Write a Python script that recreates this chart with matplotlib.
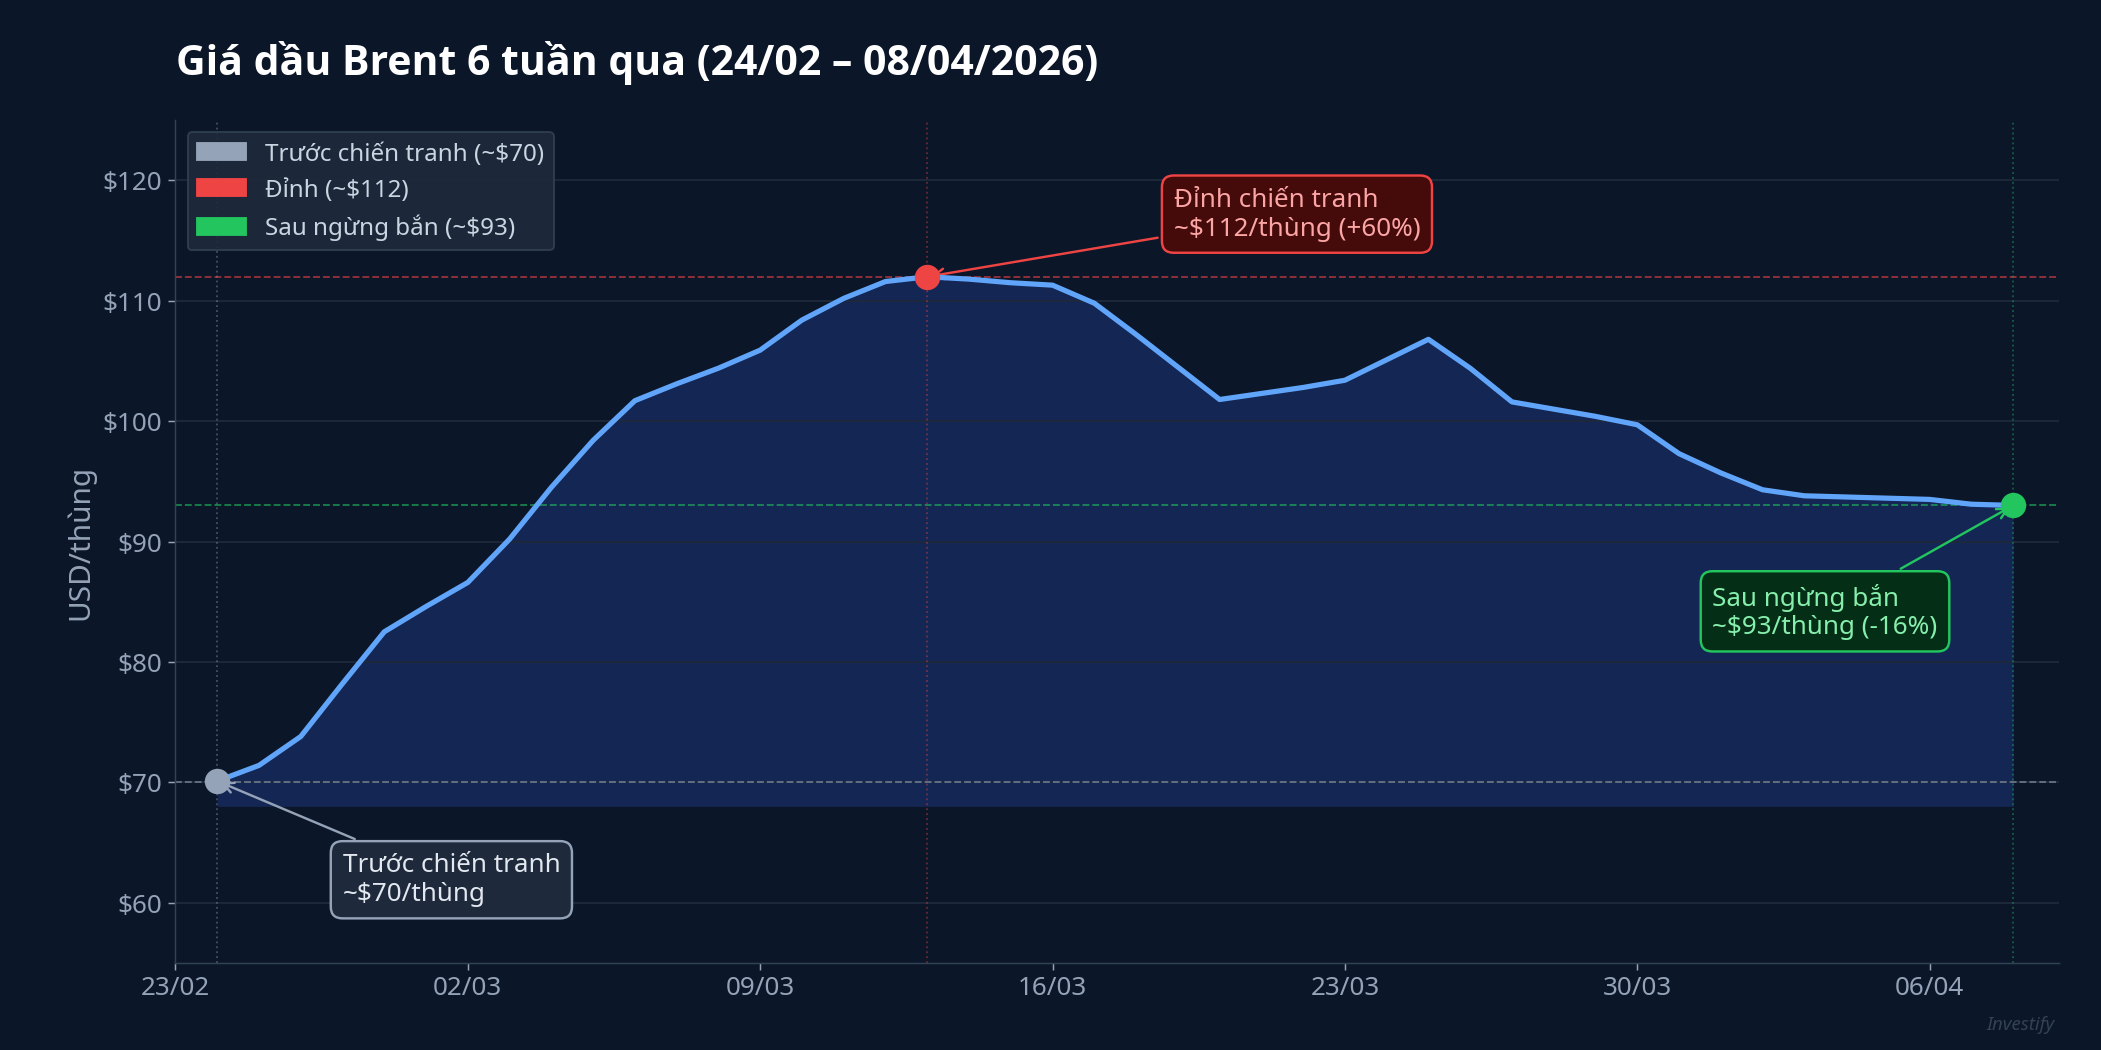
import matplotlib
matplotlib.use("Agg")
import matplotlib.pyplot as plt
import numpy as np
import datetime as dt
import matplotlib.dates as mdates

start = dt.date(2026, 2, 24)
prices = [70.1, 71.4, 73.8, 78.2, 82.5, 84.6, 86.6, 90.2, 94.5, 98.4, 101.7, 103.1, 104.4, 105.9,
          108.4, 110.2, 111.6, 112.0, 111.8, 111.5, 111.3, 109.8, 107.2, 104.5, 101.8, 102.3,
          102.8, 103.4, 105.1, 106.8, 104.4, 101.6, 101.0, 100.4, 99.7, 97.3, 95.7, 94.3, 93.8,
          93.7, 93.6, 93.5, 93.1, 93.0]
dates = [start + dt.timedelta(days=i) for i in range(len(prices))]
tick_labels = ["23/02", "02/03", "09/03", "16/03", "23/03", "30/03", "06/04"]
yticks = [60, 70, 80, 90, 100, 110, 120]
pre, peak, after = 70, 112, 93

plt.rcParams['font.family'] = ['Noto Sans', 'DejaVu Sans']
BG = '#0b1628'
fig = plt.figure(figsize=(15.68, 7.84), dpi=134)
fig.patch.set_facecolor(BG)
ax = fig.add_axes([0.0835, 0.083, 0.8965, 0.802])
ax.set_facecolor(BG)
x = mdates.date2num(dates)
ax.fill_between(x, 68, prices, color='#1e3a8a', alpha=0.45, lw=0)
ax.plot(x, prices, color='#60a5fa', lw=2.8, zorder=4)

ax.axhline(pre, color='#94a3b8', ls='--', lw=1, alpha=0.6)
ax.axhline(peak, color='#ef4444', ls='--', lw=1, alpha=0.6)
ax.axhline(after, color='#22c55e', ls='--', lw=1, alpha=0.6)
ip = prices.index(max(prices))
ax.axvline(x[0], color='#94a3b8', ls=':', lw=1, alpha=0.4)
ax.axvline(x[ip], color='#ef4444', ls=':', lw=1, alpha=0.4)
ax.axvline(x[-1], color='#22c55e', ls=':', lw=1, alpha=0.4)

ax.scatter([x[0]], [prices[0]], s=160, color='#94a3b8', zorder=5)
ax.scatter([x[ip]], [prices[ip]], s=160, color='#ef4444', zorder=5)
ax.scatter([x[-1]], [prices[-1]], s=160, color='#22c55e', zorder=5)

fs = 14
ax.annotate("Trước chiến tranh\n~$70/thùng", xy=(x[0], prices[0]), xytext=(x[0] + 3.0, 61.9),
            color='#e2e8f0', fontsize=fs, va='center',
            bbox=dict(boxstyle='round,pad=0.45', fc='#1e293b', ec='#94a3b8', lw=1.3),
            arrowprops=dict(arrowstyle='->', color='#94a3b8', lw=1.3))
ax.annotate("Đỉnh chiến tranh\n~$112/thùng (+60%)", xy=(x[ip], prices[ip]), xytext=(x[ip] + 5.9, 117.2),
            color='#fca5a5', fontsize=fs, va='center',
            bbox=dict(boxstyle='round,pad=0.45', fc='#450a0a', ec='#ef4444', lw=1.3),
            arrowprops=dict(arrowstyle='->', color='#ef4444', lw=1.3))
ax.annotate("Sau ngừng bắn\n~$93/thùng (-16%)", xy=(x[-1], prices[-1]), xytext=(x[-1] - 7.2, 84.2),
            color='#86efac', fontsize=fs, va='center',
            bbox=dict(boxstyle='round,pad=0.45', fc='#052e16', ec='#22c55e', lw=1.3),
            arrowprops=dict(arrowstyle='->', color='#22c55e', lw=1.3))

from matplotlib.patches import Patch
h = [Patch(color='#94a3b8', label='Trước chiến tranh (~$70)'),
     Patch(color='#ef4444', label='Đỉnh (~$112)'),
     Patch(color='#22c55e', label='Sau ngừng bắn (~$93)')]
leg = ax.legend(handles=h, loc='upper left', fontsize=13, facecolor='#1e293b', edgecolor='#334155',
                labelcolor='#cbd5e1', framealpha=0.9)

t0 = mdates.date2num(dt.date(2026, 2, 23))
ax.set_xlim(t0, t0 + 45.1)
ax.set_ylim(55, 125)
ax.set_xticks([t0 + 7 * i for i in range(len(tick_labels))])
ax.set_xticklabels(tick_labels)
ax.set_yticks(yticks)
ax.set_yticklabels([f"${v}" for v in yticks])
ax.tick_params(colors='#94a3b8', labelsize=14)
ax.grid(axis='y', color='#1e293b', lw=1)
for s in ['top', 'right']:
    ax.spines[s].set_visible(False)
for s in ['left', 'bottom']:
    ax.spines[s].set_color('#334155')
ax.set_ylabel("USD/thùng", color='#94a3b8', fontsize=16)
fig.text(0.084, 0.94, "Giá dầu Brent 6 tuần qua (24/02 – 08/04/2026)", color='white',
         fontsize=22, fontweight='bold', va='center', family=['Open Sans', 'DejaVu Sans'])
fig.text(0.978, 0.02, "Investify", color='#334155', fontsize=10, style='italic', ha='right')
fig.savefig("out.png", dpi=134, facecolor=BG)
